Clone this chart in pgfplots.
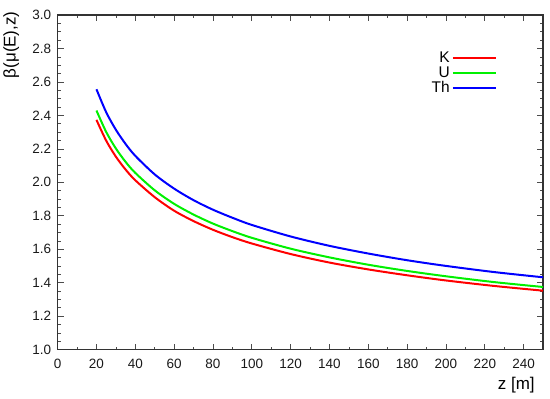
\documentclass[border=0pt]{standalone}
\usepackage{fontspec}
\setmainfont{Liberation Sans}
\usepackage{pgfplots}
\pgfplotsset{compat=1.18}

\definecolor{cK}{RGB}{255,0,0}
\definecolor{cU}{RGB}{0,240,0}
\definecolor{cTh}{RGB}{0,0,255}

\pgfplotstableread{
z    K      U      Th
20   2.373  2.429  2.556
25   2.249  2.301  2.419
30   2.153  2.202  2.314
35   2.076  2.122  2.229
40   2.012  2.056  2.158
50   1.911  1.952  2.047
60   1.830  1.871  1.962
70   1.768  1.807  1.893
80   1.716  1.753  1.836
90   1.672  1.708  1.788
100  1.634  1.668  1.745
120  1.571  1.603  1.676
140  1.520  1.551  1.620
160  1.479  1.507  1.574
180  1.444  1.470  1.534
200  1.413  1.438  1.500
225  1.380  1.403  1.463
250  1.352  1.374  1.432
}\betadata

\begin{document}
\begin{tikzpicture}
\begin{axis}[
  scale only axis,
  width=486pt, height=335pt,
  xmin=0, xmax=250, ymin=1.0, ymax=3.0,
  xtick={0,20,...,240},
  ytick={1.0,1.2,...,3.01},
  minor x tick num=1,
  minor y tick num=3,
  tick align=inside,
  major tick length=6pt,
  minor tick length=3pt,
  axis line style={line width=1.2pt, black!80},
  every tick/.style={black!70, line width=0.6pt},
  /pgf/number format/assume math mode=true,
  /pgf/number format/fixed,
  /pgf/number format/fixed zerofill,
  /pgf/number format/precision=1,
  xticklabel={\pgfmathprintnumber[fixed,precision=0]{\tick}},
  tick label style={font=\fontsize{13.5}{16}\selectfont, black!90},
  yticklabel style={xshift=-3pt},
  xticklabel style={yshift=-6pt},
  xlabel={z [m]},
  ylabel={β(μ(E),z)},
  label style={font=\fontsize{17}{20}\selectfont},
  xlabel style={at={(rel axis cs:0.99,-0.072)}, anchor=north east},
  ylabel style={at={(rel axis cs:-0.072,1.021)}, anchor=south east},
  legend style={draw=none, fill=none, at={(rel axis cs:0.905,0.895)},
    anchor=north east, font=\fontsize{15.5}{16}\selectfont,
    row sep=-1.5pt, inner sep=0pt},
  legend cell align=right,
  legend plot pos=right,
  legend image code/.code={\draw[#1] (0pt,0pt) -- (43pt,0pt);},
]
\addplot[cK, line width=2pt, smooth] table[x=z, y=K] {\betadata};
\addlegendentry{K}
\addplot[cU, line width=2pt, smooth] table[x=z, y=U] {\betadata};
\addlegendentry{U}
\addplot[cTh, line width=2pt, smooth] table[x=z, y=Th] {\betadata};
\addlegendentry{Th}
\end{axis}
\useasboundingbox ([shift={(-57pt,-49pt)}]current axis.south west)
  rectangle ([shift={(7pt,15pt)}]current axis.north east);
\end{tikzpicture}
\end{document}
